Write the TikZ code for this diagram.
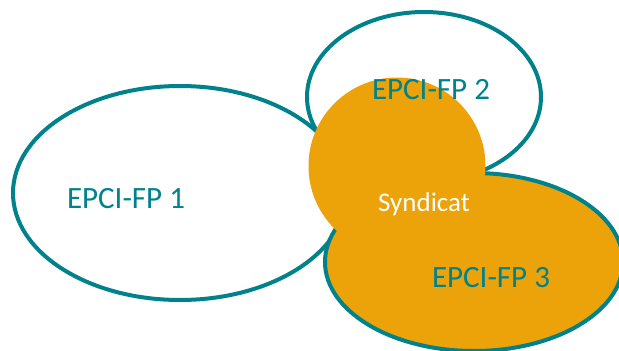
\documentclass[tikz,border=0pt]{standalone}
\usepackage{fontspec}
\setmainfont{Carlito}
\usetikzlibrary{shapes.geometric}
\definecolor{epciteal}{RGB}{0,130,140}
\definecolor{syndorange}{RGB}{236,163,10}
\begin{document}
\begin{tikzpicture}[x=1pt, y=-1pt,
        epci/.style={ellipse, draw=epciteal, line width=4pt, inner sep=0pt},
        lbl/.style={text=epciteal, inner sep=0pt, font=\fontsize{31}{31}\selectfont}]
            \useasboundingbox (0,0) rectangle (619,351);
            \clip (0,0) rectangle (619,351);
            \node[epci, fill=white, minimum width=334pt, minimum height=214pt] (e1) at (180,193) {};
            \node[epci, fill=white, minimum width=234pt, minimum height=170pt] (e2) at (424,97) {};
            \node[epci, fill=syndorange, minimum width=298pt, minimum height=178pt] (e3) at (474,262) {};
            \node[circle, fill=syndorange, inner sep=0pt, minimum size=177pt] (synd) at (397,166) {};
            \foreach \n/\x/\y in {1/126/199, 2/431/90, 3/491/278}
                \node[lbl] (l\n) at (\x,\y) {EPCI-FP \n};
            \node[text=white, inner sep=0pt, font=\fontsize{27}{27}\selectfont] (ls) at (424,204) {Syndicat};
        \end{tikzpicture}
\end{document}
